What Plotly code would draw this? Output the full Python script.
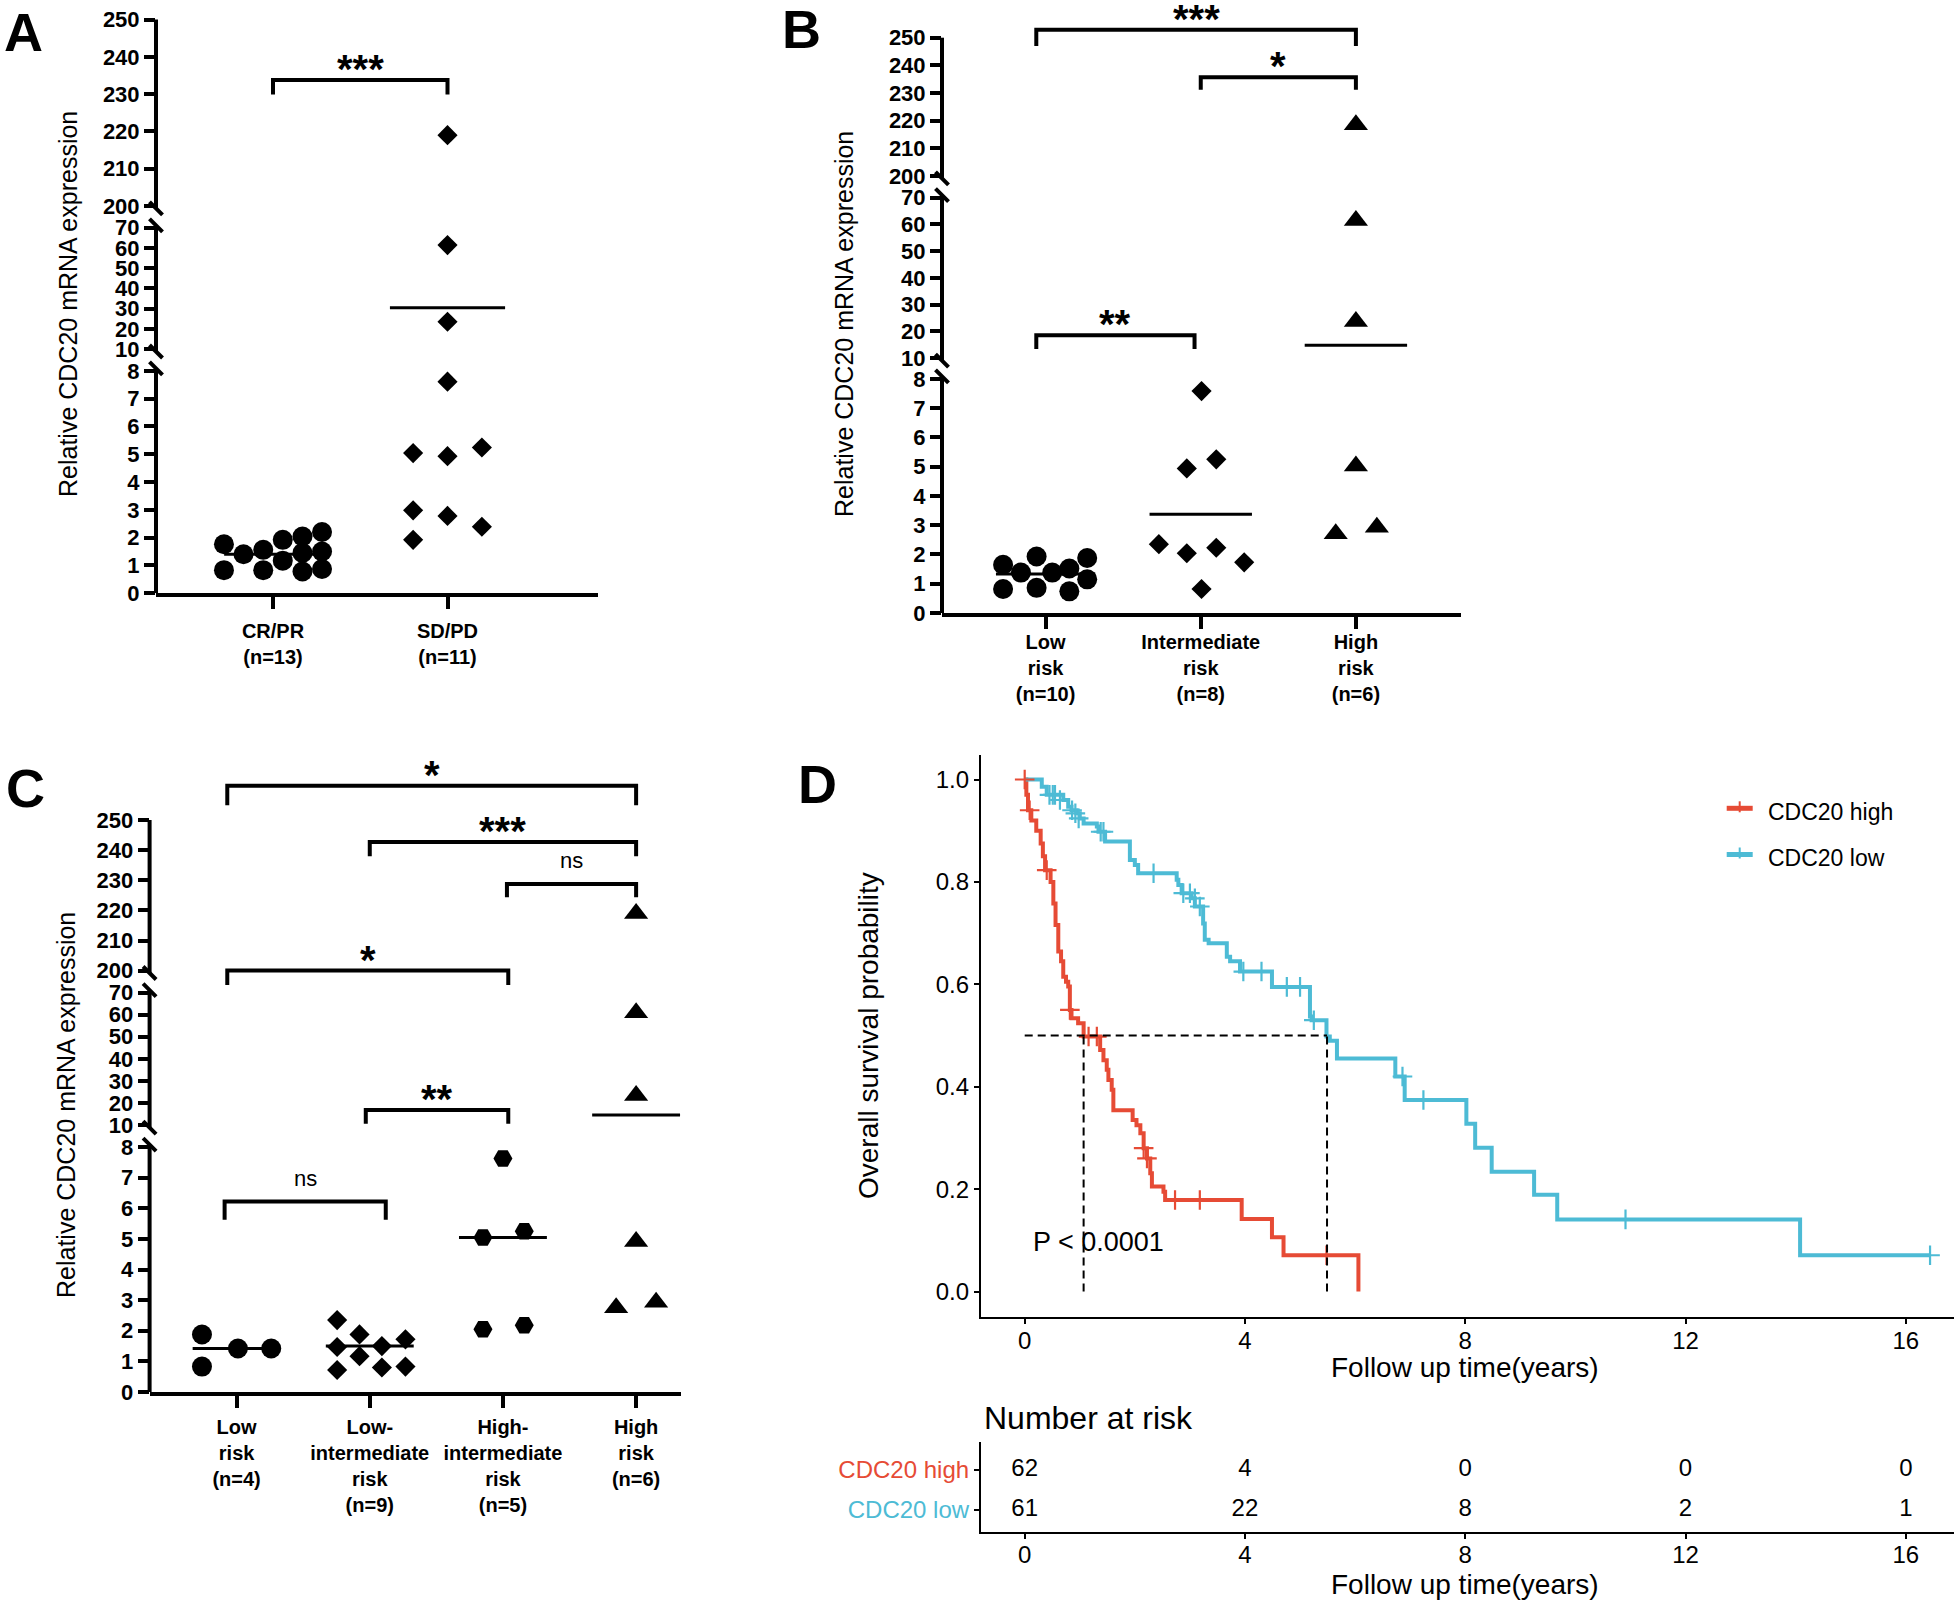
import plotly.graph_objects as go

W, H = 1954, 1603
FONT = "Liberation Sans, Arial, Helvetica, sans-serif"
RED = "#E64B35"
BLUE = "#4DBBD5"

# ---------------- data: panel A ----------------
a_groups = ["CR/PR<br>(n=13)", "SD/PD<br>(n=11)"]
a_crpr = [1.76, 0.83, 1.40, 1.56, 0.83, 1.92, 1.17, 2.04, 1.45, 0.78, 2.20, 1.50, 0.87]
a_sdpd = [219.0, 61.4, 23.5, 7.61, 5.04, 4.93, 5.24, 2.98, 2.78, 2.39, 1.92]
a_centre = [1.40, 30.4]
a_sig = [(0.0, 1.0, 233.8, 229.9, "***")]

# ---------------- data: panel B ----------------
b_groups = ["Low<br>risk<br>(n=10)", "Intermediate<br>risk<br>(n=8)", "High<br>risk<br>(n=6)"]
b_low = [1.65, 0.82, 1.38, 1.93, 0.86, 1.38, 1.52, 0.74, 1.88, 1.15]
b_int = [7.58, 4.94, 5.25, 2.35, 2.04, 2.23, 1.73, 0.82]
b_high = [218.5, 61.4, 23.7, 5.02, 2.71, 2.93]
b_centre = [1.33, 3.37, 14.8]
b_sig = [(-0.06, 2.0, 252.9, 247.0, "***"),
         (1.0, 2.0, 235.7, 231.2, "*"),
         (-0.06, 0.96, 18.6, 13.4, "**")]

# ---------------- data: panel C ----------------
c_groups = ["Low<br>risk<br>(n=4)", "Low-<br>intermediate<br>risk<br>(n=9)",
            "High-<br>intermediate<br>risk<br>(n=5)", "High<br>risk<br>(n=6)"]
c_low = [1.88, 0.83, 1.42, 1.42]
c_lowint = [2.35, 1.88, 1.47, 1.17, 0.72, 1.50, 0.80, 1.72, 0.83]
c_highint = [7.63, 5.05, 5.25, 2.05, 2.18]
c_high = [219.0, 60.8, 23.4, 4.92, 2.75, 2.93]
c_centre = [1.42, 1.50, 5.05, 14.6]
c_sig = [(-0.07, 3.0, 261.4, 254.9, "*"),
         (1.0, 3.0, 242.7, 238.0, "***"),
         (2.03, 3.0, 228.8, 224.4, "ns"),
         (-0.07, 2.04, 200.0, 195.2, "*"),
         (0.97, 2.04, 16.9, 10.7, "**"),
         (-0.09, 1.12, 6.22, 5.63, "ns")]

# horizontal scatter of the points inside each column (category units)
a_crpr_jit = [-0.281, -0.281, -0.169, -0.056, -0.056, 0.056, 0.056, 0.169, 0.169, 0.169, 0.281, 0.281, 0.281]
a_sdpd_jit = [0, 0, 0, 0, -0.197, 0, 0.197, -0.197, 0, 0.197, -0.197]
b_low_jit = [-0.274, -0.274, -0.159, -0.058, -0.058, 0.043, 0.153, 0.153, 0.268, 0.268]
b_int_jit = [0.005, -0.09, 0.1, -0.27, -0.09, 0.1, 0.28, 0.005]
b_high_jit = [0, 0, 0, 0, -0.13, 0.135]
c_low_jit = [-0.26, -0.26, 0.01, 0.26]
c_lowint_jit = [-0.245, -0.077, -0.245, -0.077, -0.245, 0.091, 0.091, 0.268, 0.268]
c_highint_jit = [0, -0.15, 0.16, -0.15, 0.16]
c_high_jit = [0, 0, 0, 0, -0.15, 0.15]

# ---------------- data: panel D (Kaplan-Meier) ----------------
red_t = [0, 0.03, 0.06, 0.12, 0.21, 0.29, 0.33, 0.37, 0.47, 0.52, 0.56, 0.61, 0.66, 0.70, 0.75,
         0.79, 0.82, 0.85, 0.97, 1.07, 1.37, 1.43, 1.49, 1.52, 1.58, 1.61, 1.96, 2.03, 2.10, 2.16,
         2.22, 2.28, 2.31, 2.52, 2.55, 3.94, 4.49, 4.70, 6.06]
red_s = [1.0, 0.97, 0.94, 0.92, 0.90, 0.875, 0.85, 0.823, 0.80, 0.758, 0.716, 0.664, 0.645, 0.615, 0.605,
         0.596, 0.55, 0.534, 0.524, 0.498, 0.472, 0.452, 0.433, 0.413, 0.394, 0.354, 0.335, 0.325, 0.309, 0.28,
         0.26, 0.231, 0.205, 0.195, 0.179, 0.142, 0.106, 0.071, 0.0]
red_cens_t = [0.0, 0.09, 0.40, 0.82, 1.16, 1.31, 2.16, 2.22, 2.73, 3.18, 5.48]
red_cens_s = [1.0, 0.94, 0.823, 0.55, 0.498, 0.498, 0.28, 0.26, 0.179, 0.179, 0.071]

blue_t = [0, 0.31, 0.40, 0.70, 0.79, 0.85, 0.94, 1.00, 1.07, 1.31, 1.34, 1.46, 1.91, 2.00, 2.06,
          2.76, 2.79, 2.85, 3.03, 3.09, 3.24, 3.27, 3.34, 3.67, 3.73, 3.91, 4.49, 5.18, 5.21, 5.48,
          5.54, 5.67, 6.73, 6.90, 8.02, 8.18, 8.48, 9.25, 9.67, 14.08, 16.44]
blue_s = [1.0, 0.986, 0.97, 0.96, 0.947, 0.94, 0.934, 0.924, 0.914, 0.908, 0.898, 0.879, 0.843, 0.833, 0.817,
          0.804, 0.794, 0.778, 0.768, 0.752, 0.719, 0.687, 0.68, 0.654, 0.645, 0.625, 0.595, 0.537, 0.53, 0.498,
          0.49, 0.455, 0.42, 0.374, 0.328, 0.281, 0.234, 0.189, 0.141, 0.071, 0.071]
blue_cens_t = [0.45, 0.51, 0.55, 0.64, 0.86, 0.92, 0.98, 1.38, 1.43, 2.34, 2.88, 3.0, 3.09, 3.18,
               3.97, 4.30, 4.76, 5.0, 5.25, 6.86, 7.24, 10.91, 16.44]
blue_cens_s = [0.97, 0.97, 0.97, 0.96, 0.94, 0.934, 0.924, 0.898, 0.898, 0.817, 0.778, 0.778, 0.768, 0.752,
               0.625, 0.625, 0.595, 0.595, 0.53, 0.42, 0.374, 0.141, 0.071]
medians = [1.07, 5.49]
p_text = "P < 0.0001"

risk_times = [0, 4, 8, 12, 16]
risk_high = [62, 4, 0, 0, 0]
risk_low = [61, 22, 8, 2, 1]

# ---------------- helpers ----------------
layout_axes = {}
shapes = []
annos = []
fig = go.Figure()


def X(p):
    return p / W


def Y(p):
    return 1 - p / H


def axkey(a):
    return a[0] + "axis" + a[1:]


def seg_of(v):
    return 0 if v <= 9 else (1 if v <= 100 else 2)


def text(x, y, s, size, bold=False, color="black", xanchor="center", angle=0):
    annos.append(dict(x=X(x), y=Y(y), xref="paper", yref="paper", text=s, showarrow=False,
                      xanchor=xanchor, yanchor="middle", textangle=angle,
                      font=dict(family=FONT, size=size, color=color, weight="bold" if bold else "normal")))


def dot_panel(xid, yids, geo, groups, series, jitters, symbols, sizes, centres, centre_hw, sigs):
    n = len(groups)
    xl, xr, c0, step = geo["xl"], geo["xr"], geo["c0"], geo["step"]
    layout_axes[axkey(xid)] = dict(
        domain=[X(xl), X(xr)], range=[(xl - c0) / step, (xr - c0) / step], anchor=yids[0],
        showline=True, linewidth=4, linecolor="black", ticks="outside", ticklen=12, tickwidth=4,
        tickcolor="black", tickvals=list(range(n)), ticktext=groups, ticklabelstandoff=geo["standoff"],
        tickfont=dict(family=FONT, size=20, color="black", weight="bold"),
        showgrid=False, zeroline=False)
    tickvals = [list(range(0, 9)), list(range(10, 71, 10)), list(range(200, 251, 10))]
    seg_lims = [(0, 8), (10, 70), (200, 250)]
    e = 2.4
    for i, name in enumerate(["bottom", "middle", "top"]):
        (v0, p0), (v1, p1) = geo[name]
        k = (p0 - p1) / (v1 - v0)
        top_px, bot_px = geo["dom"][name]
        layout_axes[axkey(yids[i])] = dict(
            domain=[Y(bot_px), Y(top_px)], range=[v0 + (p0 - bot_px) / k, v0 + (p0 - top_px) / k],
            anchor=xid, tickvals=tickvals[i], ticks="outside", ticklen=11, tickwidth=4, tickcolor="black",
            tickfont=dict(family=FONT, size=22, color="black", weight="bold"),
            showline=False, showgrid=False, zeroline=False)
        lo, hi = seg_lims[i]
        lo_l = lo if i == 0 else lo - e / k
        hi_l = hi if i == 2 else hi + e / k
        shapes.append(dict(type="line", xref=xid + " domain", yref=yids[i], x0=0, x1=0, y0=lo_l, y1=hi_l,
                           line=dict(color="black", width=4)))
        # break marks
        ends = []
        if i > 0:
            ends.append(lo_l)
        if i < 2:
            ends.append(hi_l)
        for v in ends:
            pyy = p0 - (v - v0) * k
            shapes.append(dict(type="line", xref="paper", yref="paper",
                               x0=X(xl - 6.5), y0=Y(pyy - 6.5), x1=X(xl + 6.5), y1=Y(pyy + 6.5),
                               line=dict(color="black", width=4)))
    for g, (vals, jit) in enumerate(zip(series, jitters)):
        for s in range(3):
            xs = [g + j for v, j in zip(vals, jit) if seg_of(v) == s]
            ys = [v for v in vals if seg_of(v) == s]
            if ys:
                fig.add_trace(go.Scatter(x=xs, y=ys, xaxis=xid, yaxis=yids[s], mode="markers",
                                         cliponaxis=False,
                                         marker=dict(symbol=symbols[g], size=sizes[g], color="black",
                                                     line=dict(width=0))))
        c = centres[g]
        fig.add_trace(go.Scatter(x=[g - centre_hw[g], g + centre_hw[g]], y=[c, c], xaxis=xid,
                                 yaxis=yids[seg_of(c)], mode="lines", line=dict(color="black", width=3)))
    for xa, xb, yv, ylow, lab in sigs:
        yid = yids[seg_of(yv)]
        shapes.append(dict(type="path", xref=xid, yref=yid,
                           path=f"M {xa},{ylow} L {xa},{yv} L {xb},{yv} L {xb},{ylow}",
                           line=dict(color="black", width=4)))
        star = lab != "ns"
        annos.append(dict(x=(xa + xb) / 2, y=yv, xref=xid, yref=yid, text=lab, showarrow=False,
                          xanchor="center", yanchor="middle", yshift=11 if star else 23,
                          font=dict(family=FONT, size=40 if star else 22, color="black",
                                    weight="bold" if star else "normal")))
    text(geo["title"][0], geo["title"][1], "Relative CDC20 mRNA expression", 25, angle=-90)


# ---------------- panels A, B, C ----------------
dot_panel("x", ["y", "y2", "y3"],
          dict(xl=156, xr=598, c0=273, step=174.5, standoff=5,
               bottom=((0, 593.2), (8, 370.8)), middle=((10, 349.1), (70, 227.7)),
               top=((200, 206.0), (250, 19.5)),
               dom=dict(bottom=(355, 593.2), middle=(150, 365), top=(0, 240)),
               title=(68, 304)),
          a_groups, [a_crpr, a_sdpd], [a_crpr_jit, a_sdpd_jit], ["circle", "diamond"], [20, 15.5],
          a_centre, [0.28, 0.33], a_sig)

dot_panel("x2", ["y4", "y5", "y6"],
          dict(xl=942, xr=1460.8, c0=1045.6, step=155.15, standoff=-4,
               bottom=((0, 613.0), (8, 378.8)), middle=((10, 358.2), (70, 197.5)),
               top=((200, 175.9), (250, 37.7)),
               dom=dict(bottom=(360, 613.0), middle=(185, 372), top=(0, 240)),
               title=(844, 324)),
          b_groups, [b_low, b_int, b_high], [b_low_jit, b_int_jit, b_high_jit],
          ["circle", "diamond", "triangle-up"], [20, 15.5, 21],
          b_centre, [0.32, 0.33, 0.33], b_sig)

dot_panel("x3", ["y7", "y8", "y9"],
          dict(xl=149.6, xr=680.8, c0=236.6, step=133.17, standoff=2,
               bottom=((0, 1392.0), (8, 1147.1)), middle=((10, 1125.2), (70, 992.5)),
               top=((200, 970.6), (250, 820.1)),
               dom=dict(bottom=(1140, 1392.0), middle=(975, 1140), top=(750, 1000)),
               title=(66, 1105)),
          c_groups, [c_low, c_lowint, c_highint, c_high],
          [c_low_jit, c_lowint_jit, c_highint_jit, c_high_jit],
          ["circle", "diamond", "hexagon2", "triangle-up"], [20, 15.5, 19, 21],
          c_centre, [0.33, 0.33, 0.33, 0.33], c_sig)

# ---------------- panel D ----------------
t0_px, t_k = 1024.7, 55.07
s0_px, s_k = 1291.6, 512.1
xl_d, xr_d = 980.7, 1954
x_rng = [(xl_d - t0_px) / t_k, (xr_d - t0_px) / t_k]
thin_axis = dict(showline=True, linewidth=1.6, linecolor="black", ticks="outside", ticklen=5,
                 tickwidth=1.6, tickcolor="black", showgrid=False, zeroline=False,
                 tickfont=dict(family=FONT, size=24, color="black"))

layout_axes["xaxis4"] = dict(domain=[X(xl_d), 1], range=x_rng, anchor="y10", ticklabelstandoff=-4,
                             tickvals=[0, 4, 8, 12, 16], **thin_axis)
layout_axes["yaxis10"] = dict(domain=[Y(1317.3), Y(755)],
                              range=[(s0_px - 1317.3) / s_k, (s0_px - 755) / s_k], anchor="x4",
                              tickvals=[0, 0.2, 0.4, 0.6, 0.8, 1.0],
                              ticktext=["0.0", "0.2", "0.4", "0.6", "0.8", "1.0"], **thin_axis)

for tt, ss, col in [(red_t, red_s, RED), (blue_t, blue_s, BLUE)]:
    fig.add_trace(go.Scatter(x=tt, y=ss, xaxis="x4", yaxis="y10", mode="lines",
                             line=dict(color=col, width=4, shape="hv")))
for tt, ss, col in [(red_cens_t, red_cens_s, RED), (blue_cens_t, blue_cens_s, BLUE)]:
    fig.add_trace(go.Scatter(x=tt, y=ss, xaxis="x4", yaxis="y10", mode="markers", cliponaxis=False,
                             marker=dict(symbol="cross-thin", size=14, color=col,
                                         line=dict(width=2.2, color=col))))

dash = dict(color="black", width=2, dash="8px,5px")
fig.add_trace(go.Scatter(x=[0, max(medians)], y=[0.5, 0.5], xaxis="x4", yaxis="y10",
                         mode="lines", line=dash))
for m in medians:
    fig.add_trace(go.Scatter(x=[m, m], y=[0, 0.5], xaxis="x4", yaxis="y10", mode="lines", line=dash))

text(1031, 1242, p_text, 27, xanchor="left")
text(868.5, 1035.5, "Overall survival probability", 28, angle=-90)
text(1465, 1367, "Follow up time(years)", 28)

# legend
for yy, col, lab in [(808.3, RED, "CDC20 high"), (854.5, BLUE, "CDC20 low")]:
    shapes.append(dict(type="line", xref="paper", yref="paper", x0=X(1726.7), x1=X(1752.7),
                       y0=Y(yy), y1=Y(yy), line=dict(color=col, width=5)))
    shapes.append(dict(type="line", xref="paper", yref="paper", x0=X(1739.7), x1=X(1739.7),
                       y0=Y(yy - 7), y1=Y(yy + 4), line=dict(color=col, width=2)))
    text(1766, yy + 3.5, lab, 23, xanchor="left")

# ---------------- risk table ----------------
layout_axes["xaxis5"] = dict(domain=[X(xl_d), 1], range=x_rng, anchor="y11", ticklabelstandoff=-5,
                             tickvals=[0, 4, 8, 12, 16], **thin_axis)
layout_axes["yaxis11"] = dict(domain=[Y(1532), Y(1442)], range=[-0.55, 1.7], anchor="x5",
                              tickvals=[1, 0],
                              ticktext=[f'<span style="color:{RED}">CDC20 high</span>',
                                        f'<span style="color:{BLUE}">CDC20 low</span>'],
                              **thin_axis)
fig.add_trace(go.Scatter(x=risk_times + risk_times, y=[1] * 5 + [0] * 5, xaxis="x5", yaxis="y11",
                         mode="text", text=[str(v) for v in risk_high + risk_low], cliponaxis=False,
                         textfont=dict(family=FONT, size=24, color="black")))
text(982, 1418, "Number at risk", 32, xanchor="left")
text(1465, 1584, "Follow up time(years)", 28)

# panel letters
for lx, ly, lab in [(23, 32, "A"), (801, 29, "B"), (25, 788, "C"), (817, 784, "D")]:
    text(lx, ly, lab, 54, bold=True)

fig.update_layout(width=W, height=H, margin=dict(l=0, r=0, t=0, b=0), template="none",
                  paper_bgcolor="white", plot_bgcolor="rgba(0,0,0,0)", showlegend=False,
                  shapes=shapes, annotations=annos, **layout_axes)

fig.write_html("out.html", config={"displayModeBar": False},
               post_script="document.body.style.margin='0';")
